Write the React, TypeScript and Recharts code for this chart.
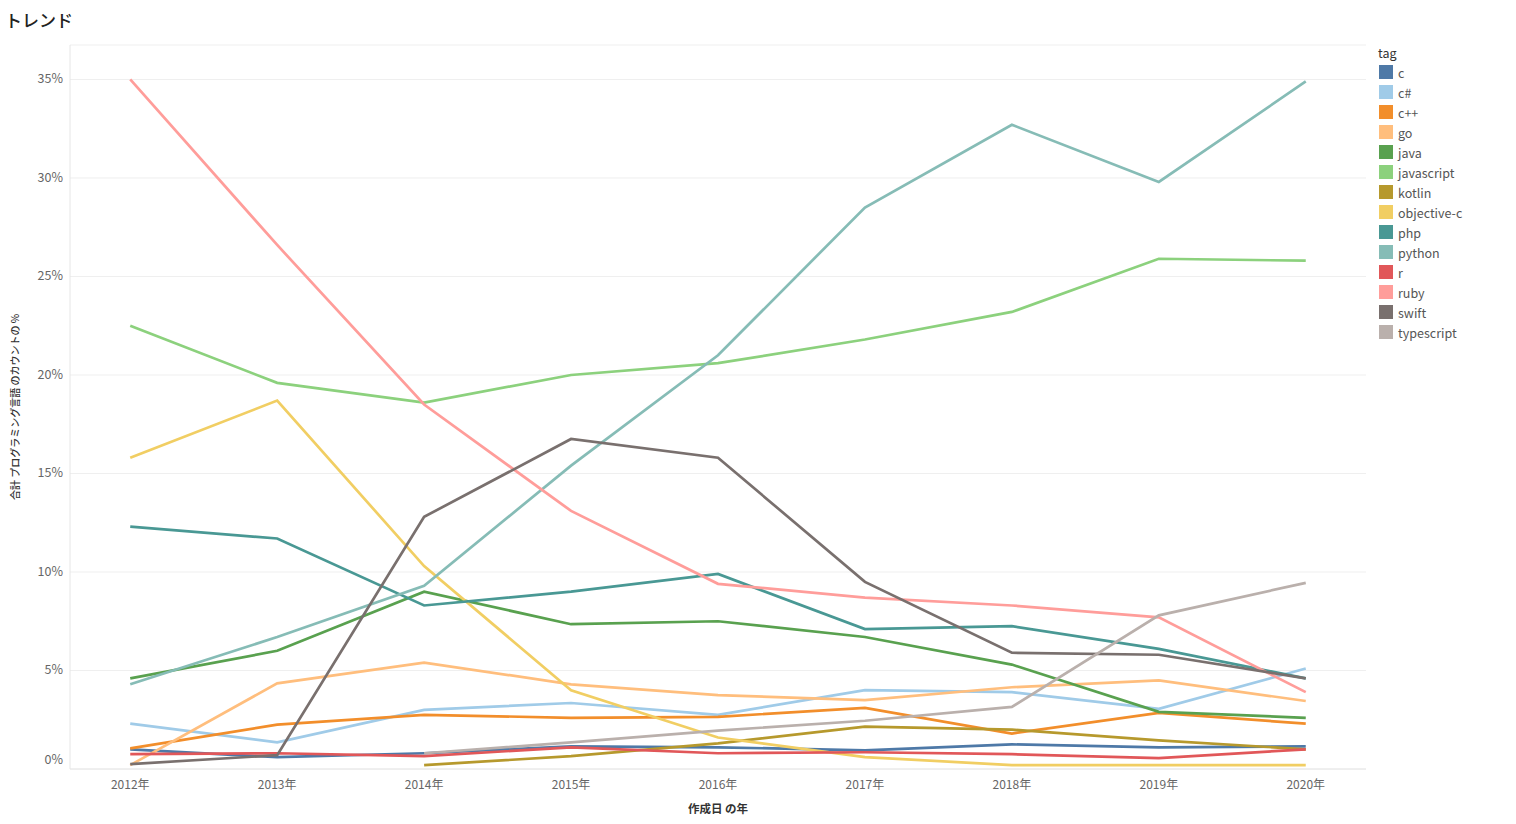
import { CartesianGrid, Line, LineChart, XAxis, YAxis } from "recharts";

const YEARS = [2012, 2013, 2014, 2015, 2016, 2017, 2018, 2019, 2020];
const TAGS = ["c", "c#", "c++", "go", "java", "javascript", "kotlin", "objective-c", "php", "python", "r", "ruby", "swift", "typescript"];

const TAG_COLORS: Record<string, string> = {
  c: "#4E79A7",
  "c#": "#A0CBE8",
  "c++": "#F28E2B",
  go: "#FFBE7D",
  java: "#59A14F",
  javascript: "#8CD17D",
  kotlin: "#B6992D",
  "objective-c": "#F1CE63",
  php: "#499894",
  python: "#86BCB6",
  r: "#E15759",
  ruby: "#FF9D9A",
  swift: "#79706E",
  typescript: "#BAB0AC",
};

// share of questions per tag, % (null = no data that year)
const C = [1.0, 0.6, 0.8, 1.15, 1.1, 0.95, 1.25, 1.1, 1.15];
const CSHARP = [2.3, 1.35, 3.0, 3.35, 2.75, 4.0, 3.9, 3.05, 5.1];
const CPP = [1.05, 2.25, 2.75, 2.6, 2.65, 3.1, 1.8, 2.85, 2.3];
const GO = [0.2, 4.35, 5.4, 4.3, 3.75, 3.5, 4.15, 4.5, 3.45];
const JAVA = [4.6, 6.0, 9.0, 7.35, 7.5, 6.7, 5.3, 2.9, 2.6];
const JAVASCRIPT = [22.5, 19.6, 18.6, 20.0, 20.6, 21.8, 23.2, 25.9, 25.8];
const KOTLIN = [null, null, 0.2, 0.65, 1.3, 2.15, 2.0, 1.45, 1.0];
const OBJECTIVE_C = [15.8, 18.7, 10.3, 4.0, 1.6, 0.6, 0.2, 0.2, 0.2];
const PHP = [12.3, 11.7, 8.3, 9.0, 9.9, 7.1, 7.25, 6.1, 4.6];
const PYTHON = [4.3, 6.7, 9.3, 15.4, 21.0, 28.5, 32.7, 29.8, 34.9];
const R = [0.75, 0.8, 0.65, 1.1, 0.8, 0.85, 0.75, 0.55, 1.0];
const RUBY = [35.0, 26.6, 18.5, 13.1, 9.4, 8.7, 8.3, 7.7, 3.9];
const SWIFT = [0.25, 0.7, 12.8, 16.75, 15.8, 9.5, 5.9, 5.8, 4.6];
const TYPESCRIPT = [null, null, 0.8, 1.35, 1.95, 2.45, 3.15, 7.8, 9.45];

const Y_TICKS = [0, 5, 10, 15, 20, 25, 30, 35];

const SERIES: Record<string, (number | null)[]> = {
  c: C,
  "c#": CSHARP,
  "c++": CPP,
  go: GO,
  java: JAVA,
  javascript: JAVASCRIPT,
  kotlin: KOTLIN,
  "objective-c": OBJECTIVE_C,
  php: PHP,
  python: PYTHON,
  r: R,
  ruby: RUBY,
  swift: SWIFT,
  typescript: TYPESCRIPT,
};

const data = YEARS.map((year, i) => {
  const row: Record<string, number | null> = { year };
  TAGS.forEach((tag) => {
    row[tag] = SERIES[tag][i];
  });
  return row;
});

const FONT = "'Noto Sans CJK JP', 'Noto Sans', sans-serif";

function YTick({ x, y, payload }: any) {
  const shift = payload.value === 0 ? -9 : 0;
  return (
    <text x={x} y={y + shift} dy={4} textAnchor="end" fontSize={12.5} fill="#666" fontFamily={FONT}>
      {payload.value}%
    </text>
  );
}

function XTick({ x, y, payload }: any) {
  return (
    <text x={x} y={y} dy={12} textAnchor="middle" fontSize={12} fill="#666" fontFamily={FONT}>
      {payload.value}年
    </text>
  );
}

function TagLegend() {
  return (
    <div style={{ position: "absolute", left: 1378, top: 45, fontFamily: FONT, fontSize: 12.5 }}>
      <div style={{ color: "#333", height: 17, lineHeight: "16px" }}>tag</div>
      {TAGS.map((tag) => (
        <div key={tag} style={{ display: "flex", alignItems: "center", height: 20 }}>
          <span style={{ width: 14, height: 14, background: TAG_COLORS[tag], marginLeft: 1, marginRight: 5 }} />
          <span style={{ color: "#555" }}>{tag}</span>
        </div>
      ))}
    </div>
  );
}

export default function App() {
  return (
    <div style={{ position: "absolute", left: 0, top: 0, width: 1516, height: 824, background: "#fff" }}>
      <div style={{ position: "absolute", left: 5, top: 7, fontFamily: FONT, fontSize: 17, fontWeight: 500, color: "#222", zIndex: 2 }}>
        トレンド
      </div>
      <LineChart width={1516} height={824} data={data} margin={{ top: 45, right: 150, bottom: 10, left: 0 }}>
        <CartesianGrid vertical={false} stroke="#efefef" />
        <XAxis
          dataKey="year"
          type="number"
          domain={[2011.59, 2020.41]}
          ticks={YEARS}
          height={45}
          tickLine={false}
          axisLine={{ stroke: "#e6e6e6" }}
          tick={<XTick />}
          label={{ value: "作成日 の年", position: "insideBottom", offset: 1, fontSize: 11.5, fill: "#333", fontFamily: FONT, fontWeight: 600 }}
        />
        <YAxis
          type="number"
          domain={[0, 36.75]}
          ticks={Y_TICKS}
          width={70}
          tickLine={false}
          tickSize={0}
          tickMargin={7}
          axisLine={{ stroke: "#e6e6e6" }}
          tick={<YTick />}
          label={{ value: "合計 プログラミング言語 のカウントの %", angle: -90, position: "insideLeft", offset: 15, fontSize: 10, fill: "#333", fontFamily: FONT, fontWeight: 500, style: { textAnchor: "middle" } }}
        />
        {TAGS.map((tag) => (
          <Line
            key={tag}
            type="linear"
            dataKey={(d: any) => d[tag]}
            name={tag}
            stroke={TAG_COLORS[tag]}
            strokeWidth={2.7}
            dot={false}
            activeDot={false}
            isAnimationActive={false}
          />
        ))}
      </LineChart>
      <TagLegend />
    </div>
  );
}
